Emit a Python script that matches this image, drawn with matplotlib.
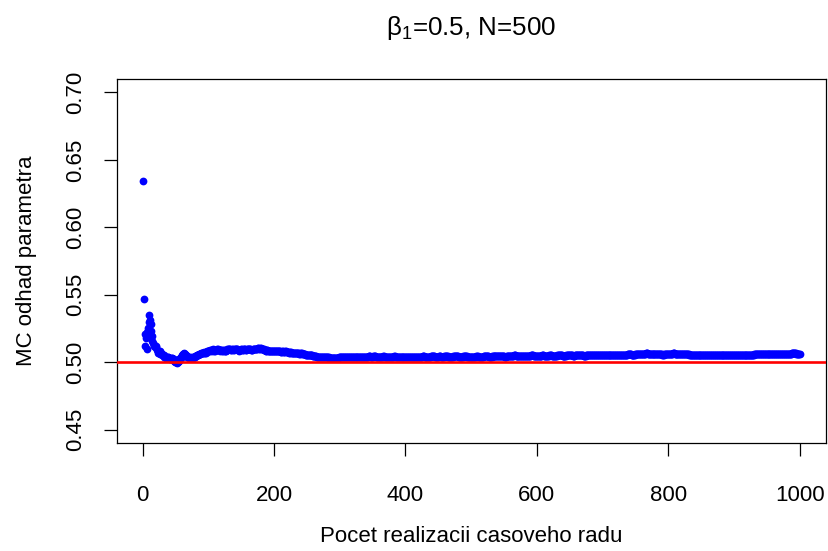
import numpy as np
import matplotlib
matplotlib.use("Agg")
import matplotlib.pyplot as plt

# Running Monte Carlo estimate of beta_1
mc_estimate = [
    0.634, 0.547, 0.521, 0.512, 0.518, 0.510, 0.522, 0.525, 0.530, 0.535, 0.531, 0.528, 0.523, 0.519, 0.516, 0.514, 0.512, 0.513, 0.511, 0.512,
    0.511, 0.509, 0.508, 0.507, 0.507, 0.506, 0.508, 0.507, 0.506, 0.505, 0.505, 0.504, 0.505, 0.504, 0.504, 0.503, 0.503, 0.504, 0.504, 0.503,
    0.503, 0.502, 0.502, 0.503, 0.503, 0.502, 0.502, 0.501, 0.501, 0.500, 0.500, 0.499, 0.500, 0.500, 0.501, 0.502, 0.503, 0.503, 0.504, 0.505,
    0.506, 0.506, 0.5065, 0.506, 0.5055, 0.505, 0.5045, 0.504, 0.5035, 0.5035, 0.503, 0.503, 0.503, 0.5035, 0.503, 0.503, 0.5035, 0.504, 0.504, 0.5045,
    0.5045, 0.505, 0.505, 0.5055, 0.5055, 0.506, 0.506, 0.506, 0.5065, 0.5065, 0.507, 0.507, 0.507, 0.5075, 0.507, 0.507, 0.5075, 0.508, 0.508, 0.508,
    0.5085, 0.5085, 0.509, 0.509, 0.5085, 0.509, 0.5095, 0.509, 0.5085, 0.5085, 0.509, 0.509, 0.5095, 0.5095, 0.509, 0.509, 0.5085, 0.509, 0.509, 0.509,
    0.5085, 0.5085, 0.509, 0.509, 0.5085, 0.508, 0.5085, 0.509, 0.5095, 0.5095, 0.510, 0.5095, 0.5095, 0.509, 0.509, 0.5095, 0.5095, 0.509, 0.509, 0.5095,
    0.5095, 0.510, 0.510, 0.5095, 0.509, 0.509, 0.5085, 0.509, 0.509, 0.5095, 0.5095, 0.509, 0.509, 0.5095, 0.5095, 0.5095, 0.509, 0.509, 0.5095, 0.5095,
    0.5095, 0.510, 0.5095, 0.5095, 0.509, 0.509, 0.509, 0.5095, 0.5095, 0.510, 0.510, 0.5095, 0.5095, 0.510, 0.5105, 0.5105, 0.510, 0.510, 0.5105, 0.5105,
    0.510, 0.510, 0.5095, 0.5095, 0.509, 0.509, 0.5085, 0.5085, 0.509, 0.509, 0.5085, 0.5085, 0.508, 0.508, 0.5085, 0.5085, 0.508, 0.508, 0.508, 0.5085,
    0.5085, 0.508, 0.508, 0.508, 0.5085, 0.5085, 0.508, 0.508, 0.508, 0.5075, 0.5075, 0.508, 0.508, 0.5075, 0.5075, 0.5075, 0.508, 0.508, 0.5075, 0.5075,
    0.5075, 0.5075, 0.507, 0.507, 0.5075, 0.5075, 0.507, 0.507, 0.507, 0.507, 0.5065, 0.5065, 0.507, 0.507, 0.5065, 0.5065, 0.5065, 0.506, 0.506, 0.5065,
    0.5065, 0.5065, 0.506, 0.506, 0.506, 0.506, 0.506, 0.5055, 0.5055, 0.5055, 0.5055, 0.5055, 0.505, 0.505, 0.505, 0.505, 0.505, 0.505, 0.5045, 0.5045,
    0.5045, 0.5045, 0.5045, 0.5045, 0.504, 0.504, 0.504, 0.504, 0.504, 0.504, 0.504, 0.5035, 0.5035, 0.5035, 0.5035, 0.5035, 0.5035, 0.5035, 0.5035, 0.5035,
    0.5035, 0.5035, 0.5035, 0.503, 0.503, 0.503, 0.503, 0.503, 0.503, 0.503, 0.503, 0.503, 0.503, 0.503, 0.503, 0.503, 0.503, 0.503, 0.5035, 0.5035,
    0.5035, 0.5035, 0.5035, 0.5035, 0.504, 0.504, 0.5035, 0.5035, 0.5035, 0.5035, 0.5035, 0.5035, 0.504, 0.504, 0.504, 0.5035, 0.5035, 0.5035, 0.5035, 0.5035,
    0.5035, 0.5035, 0.5035, 0.5035, 0.504, 0.504, 0.504, 0.504, 0.504, 0.5035, 0.5035, 0.5035, 0.5035, 0.504, 0.504, 0.504, 0.504, 0.504, 0.504, 0.504,
    0.504, 0.504, 0.504, 0.5045, 0.5045, 0.5045, 0.504, 0.504, 0.504, 0.504, 0.5045, 0.5045, 0.5045, 0.5045, 0.504, 0.504, 0.504, 0.504, 0.504, 0.504,
    0.504, 0.504, 0.504, 0.504, 0.504, 0.5045, 0.5045, 0.504, 0.504, 0.504, 0.504, 0.504, 0.504, 0.504, 0.5035, 0.5035, 0.504, 0.504, 0.504, 0.504,
    0.504, 0.504, 0.5045, 0.5045, 0.504, 0.504, 0.504, 0.504, 0.504, 0.5035, 0.5035, 0.504, 0.504, 0.504, 0.504, 0.504, 0.504, 0.504, 0.504, 0.504,
    0.504, 0.504, 0.504, 0.5035, 0.5035, 0.5035, 0.504, 0.504, 0.504, 0.504, 0.504, 0.504, 0.5035, 0.5035, 0.5035, 0.504, 0.504, 0.504, 0.504, 0.504,
    0.504, 0.504, 0.504, 0.504, 0.504, 0.5045, 0.5045, 0.5045, 0.504, 0.504, 0.504, 0.504, 0.504, 0.504, 0.504, 0.504, 0.504, 0.504, 0.5045, 0.5045,
    0.5045, 0.5045, 0.5045, 0.5045, 0.504, 0.504, 0.504, 0.504, 0.504, 0.504, 0.5045, 0.5045, 0.5045, 0.504, 0.504, 0.504, 0.504, 0.504, 0.5045, 0.5045,
    0.5045, 0.5045, 0.5045, 0.5045, 0.504, 0.504, 0.504, 0.504, 0.504, 0.504, 0.504, 0.504, 0.5045, 0.5045, 0.5045, 0.5045, 0.5045, 0.5045, 0.5045, 0.5045,
    0.504, 0.504, 0.504, 0.504, 0.504, 0.504, 0.504, 0.5045, 0.5045, 0.5045, 0.5045, 0.5045, 0.5045, 0.504, 0.504, 0.504, 0.504, 0.504, 0.504, 0.504,
    0.504, 0.504, 0.504, 0.504, 0.504, 0.504, 0.504, 0.5045, 0.5045, 0.5045, 0.504, 0.504, 0.504, 0.504, 0.504, 0.504, 0.504, 0.504, 0.5045, 0.5045,
    0.5045, 0.5045, 0.5045, 0.5045, 0.5045, 0.5045, 0.504, 0.504, 0.504, 0.504, 0.504, 0.5045, 0.5045, 0.5045, 0.5045, 0.5045, 0.5045, 0.5045, 0.5045, 0.5045,
    0.5045, 0.5045, 0.5045, 0.5045, 0.5045, 0.5045, 0.5045, 0.5045, 0.5045, 0.5045, 0.504, 0.504, 0.504, 0.5045, 0.5045, 0.5045, 0.5045, 0.5045, 0.5045, 0.5045,
    0.5045, 0.5045, 0.5045, 0.5045, 0.505, 0.505, 0.505, 0.5045, 0.5045, 0.5045, 0.5045, 0.5045, 0.5045, 0.5045, 0.5045, 0.5045, 0.5045, 0.5045, 0.5045, 0.5045,
    0.5045, 0.5045, 0.5045, 0.5045, 0.5045, 0.5045, 0.5045, 0.5045, 0.5045, 0.5045, 0.505, 0.505, 0.505, 0.505, 0.5045, 0.5045, 0.5045, 0.5045, 0.5045, 0.5045,
    0.5045, 0.5045, 0.5045, 0.5045, 0.5045, 0.5045, 0.5045, 0.505, 0.505, 0.505, 0.5045, 0.5045, 0.5045, 0.5045, 0.5045, 0.5045, 0.5045, 0.5045, 0.505, 0.505,
    0.505, 0.505, 0.5045, 0.5045, 0.5045, 0.5045, 0.5045, 0.5045, 0.5045, 0.5045, 0.505, 0.505, 0.505, 0.505, 0.505, 0.505, 0.505, 0.505, 0.5045, 0.5045,
    0.5045, 0.5045, 0.5045, 0.5045, 0.505, 0.505, 0.505, 0.505, 0.505, 0.505, 0.505, 0.505, 0.505, 0.505, 0.5045, 0.5045, 0.5045, 0.505, 0.505, 0.505,
    0.505, 0.505, 0.505, 0.505, 0.505, 0.505, 0.505, 0.505, 0.505, 0.505, 0.5045, 0.5045, 0.5045, 0.5045, 0.505, 0.505, 0.505, 0.505, 0.505, 0.505,
    0.505, 0.505, 0.505, 0.505, 0.505, 0.505, 0.505, 0.505, 0.505, 0.505, 0.505, 0.505, 0.505, 0.505, 0.505, 0.505, 0.505, 0.505, 0.505, 0.505,
    0.505, 0.505, 0.505, 0.505, 0.505, 0.505, 0.505, 0.505, 0.5055, 0.5055, 0.5055, 0.5055, 0.5055, 0.5055, 0.5055, 0.5055, 0.5055, 0.5055, 0.5055, 0.5055,
    0.5055, 0.5055, 0.5055, 0.5055, 0.5055, 0.5055, 0.5055, 0.5055, 0.5055, 0.5055, 0.5055, 0.5055, 0.5055, 0.5055, 0.5055, 0.5055, 0.5055, 0.506, 0.506, 0.506,
    0.506, 0.506, 0.506, 0.5055, 0.5055, 0.5055, 0.5055, 0.5055, 0.5055, 0.506, 0.506, 0.506, 0.506, 0.506, 0.506, 0.506, 0.506, 0.506, 0.506, 0.506,
    0.506, 0.506, 0.506, 0.506, 0.506, 0.5065, 0.5065, 0.5065, 0.506, 0.506, 0.506, 0.506, 0.506, 0.506, 0.506, 0.506, 0.506, 0.506, 0.506, 0.506,
    0.506, 0.506, 0.506, 0.506, 0.506, 0.506, 0.506, 0.506, 0.506, 0.506, 0.5055, 0.5055, 0.5055, 0.506, 0.506, 0.506, 0.506, 0.506, 0.506, 0.506,
    0.506, 0.506, 0.506, 0.506, 0.506, 0.506, 0.5065, 0.5065, 0.5065, 0.506, 0.506, 0.506, 0.506, 0.506, 0.506, 0.506, 0.506, 0.506, 0.506, 0.506,
    0.506, 0.506, 0.506, 0.506, 0.506, 0.506, 0.506, 0.506, 0.506, 0.506, 0.506, 0.5055, 0.5055, 0.5055, 0.5055, 0.5055, 0.5055, 0.5055, 0.5055, 0.5055,
    0.5055, 0.5055, 0.5055, 0.5055, 0.5055, 0.5055, 0.5055, 0.5055, 0.5055, 0.5055, 0.5055, 0.5055, 0.505, 0.505, 0.505, 0.505, 0.505, 0.505, 0.505, 0.505,
    0.505, 0.505, 0.505, 0.505, 0.505, 0.505, 0.505, 0.505, 0.505, 0.505, 0.505, 0.505, 0.505, 0.505, 0.505, 0.505, 0.505, 0.505, 0.505, 0.505,
    0.505, 0.505, 0.505, 0.505, 0.505, 0.505, 0.505, 0.505, 0.505, 0.505, 0.5055, 0.5055, 0.5055, 0.5055, 0.5055, 0.5055, 0.5055, 0.5055, 0.5055, 0.5055,
    0.5055, 0.5055, 0.5055, 0.5055, 0.5055, 0.5055, 0.5055, 0.5055, 0.5055, 0.5055, 0.5055, 0.5055, 0.5055, 0.5055, 0.5055, 0.5055, 0.5055, 0.5055, 0.5055, 0.5055,
    0.5055, 0.5055, 0.5055, 0.5055, 0.5055, 0.5055, 0.5055, 0.5055, 0.5055, 0.5055, 0.506, 0.506, 0.506, 0.506, 0.506, 0.506, 0.506, 0.506, 0.506, 0.506,
    0.506, 0.506, 0.506, 0.506, 0.506, 0.506, 0.506, 0.506, 0.506, 0.506, 0.506, 0.506, 0.506, 0.506, 0.506, 0.506, 0.506, 0.506, 0.506, 0.506,
    0.506, 0.506, 0.506, 0.506, 0.506, 0.506, 0.506, 0.506, 0.506, 0.506, 0.506, 0.506, 0.506, 0.506, 0.506, 0.506, 0.506, 0.506, 0.506, 0.506,
    0.506, 0.506, 0.506, 0.506, 0.506, 0.506, 0.506, 0.5065, 0.5065, 0.5065, 0.5065, 0.5065, 0.5065, 0.5065, 0.506, 0.506, 0.506, 0.506, 0.506, 0.506,
]
true_value = 0.5
x_ticks = [0, 200, 400, 600, 800, 1000]
y_ticks = [0.45, 0.50, 0.55, 0.60, 0.65, 0.70]
title_text = r"$\mathrm{\beta}_1$=0.5, N=500"
x_label = "Pocet realizacii casoveho radu"
y_label = "MC odhad parametra"

plt.rcParams["font.family"] = ["Liberation Sans", "DejaVu Sans"]
plt.rcParams["mathtext.fontset"] = "custom"
plt.rcParams["mathtext.rm"] = "Liberation Sans"
plt.rcParams["mathtext.it"] = "Liberation Sans:italic"

n_real = np.arange(1, len(mc_estimate) + 1)

fig = plt.figure(figsize=(8.29, 5.51), dpi=100)
ax = fig.add_axes([117 / 829, 1 - 443 / 551, (826 - 117) / 829, (443 - 79) / 551])

ax.plot(n_real, mc_estimate, linestyle="none", marker="o", markersize=5.6,
        color="#0000FF", markeredgewidth=0, zorder=2)
ax.axhline(true_value, color="#FF0000", linewidth=1.9, zorder=3)

ax.set_xlim(-39, 1040)
ax.set_ylim(0.44, 0.71)
ax.set_xticks(x_ticks)
ax.set_xticklabels([str(v) for v in x_ticks])
ax.set_yticks(y_ticks)
ax.set_yticklabels([f"{v:.2f}" for v in y_ticks], rotation=90, va="center")

for s in ax.spines.values():
    s.set_linewidth(0.9)
    s.set_color("black")
ax.tick_params(axis="both", direction="out", length=9.5, width=0.9,
               labelsize=16, colors="black")
ax.tick_params(axis="x", pad=21)
ax.tick_params(axis="y", pad=13)

fig.text(471 / 829, 1 - 28 / 551, title_text, ha="center", va="center", fontsize=18.7)
fig.text(471 / 829, 1 - 537 / 551, x_label, ha="center", va="center", fontsize=16)
fig.text(27 / 829, 1 - 261 / 551, y_label, ha="center", va="center", rotation=90, fontsize=16)

assert len(mc_estimate) == 1000, len(mc_estimate)
fig.savefig("out.png", dpi=100)
